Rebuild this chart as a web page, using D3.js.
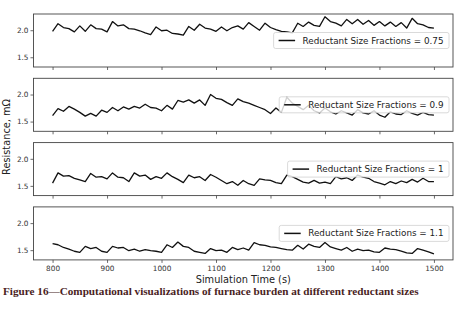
<!DOCTYPE html>
<html>
<head>
<meta charset="utf-8">
<script src="https://cdn.jsdelivr.net/npm/d3@7"></script>
<style>
  body { margin: 0; background: #fff; }
  svg { display: block; }
</style>
</head>
<body>
<div id="chart"></div>
<script>
var width = 471,
    height = 314;

// simulation time, s (10 s steps)
var times = d3.range(800, 1501, 10);

var fractions = ["0.75", "0.9", "1", "1.1"];

// resistance, mOhm
var res075 = [1.98, 2.12, 2.05, 2.03, 1.97, 2.08, 1.98, 2.10, 2.03, 2.02,
              1.97, 2.16, 2.08, 2.10, 2.03, 2.02, 1.99, 1.95, 1.92, 2.06,
              1.99, 2.00, 1.94, 1.93, 1.91, 2.07, 2.00, 2.11, 2.04, 2.02,
              1.98, 2.06, 1.99, 2.05, 2.08, 2.02, 2.14, 2.07, 2.00, 2.13,
              2.05, 2.01, 1.98, 1.97, 1.95, 2.13, 2.07, 2.15, 2.09, 2.07,
              2.25, 2.16, 2.13, 2.08, 2.20, 2.12, 2.20, 2.11, 2.18, 2.09,
              2.16, 2.08, 2.15, 2.07, 2.14, 2.04, 2.22, 2.12, 2.10, 2.05, 2.04];
var res09 = [1.61, 1.74, 1.69, 1.78, 1.73, 1.67, 1.60, 1.65, 1.60, 1.71,
             1.67, 1.76, 1.70, 1.77, 1.73, 1.78, 1.75, 1.82, 1.76, 1.75,
             1.70, 1.80, 1.73, 1.89, 1.86, 1.90, 1.84, 1.90, 1.80, 2.00,
             1.93, 1.91, 1.85, 1.80, 1.92, 1.87, 1.84, 1.80, 1.76, 1.72,
             1.65, 1.75, 1.67, 1.95, 1.84, 1.78, 1.72, 1.80, 1.70, 1.66,
             1.75, 1.68, 1.64, 1.70, 1.66, 1.62, 1.72, 1.66, 1.64, 1.70,
             1.62, 1.58, 1.68, 1.64, 1.63, 1.70, 1.65, 1.62, 1.67, 1.63, 1.62];
var res1 = [1.55, 1.74, 1.68, 1.69, 1.64, 1.61, 1.58, 1.73, 1.66, 1.67,
            1.63, 1.74, 1.66, 1.65, 1.58, 1.74, 1.68, 1.70, 1.62, 1.67,
            1.64, 1.74, 1.67, 1.62, 1.56, 1.70, 1.65, 1.67, 1.60, 1.71,
            1.66, 1.60, 1.54, 1.58, 1.51, 1.60, 1.54, 1.51, 1.63, 1.61,
            1.60, 1.56, 1.54, 1.70, 1.67, 1.62, 1.57, 1.55, 1.60, 1.55,
            1.57, 1.54, 1.67, 1.63, 1.65, 1.60, 1.70, 1.66, 1.64, 1.58,
            1.55, 1.52, 1.58, 1.54, 1.59, 1.56, 1.62, 1.57, 1.64, 1.58, 1.58];
var res11 = [1.62, 1.60, 1.55, 1.52, 1.48, 1.46, 1.57, 1.53, 1.55, 1.48,
             1.46, 1.57, 1.54, 1.55, 1.49, 1.52, 1.48, 1.51, 1.49, 1.48,
             1.46, 1.60, 1.55, 1.65, 1.57, 1.55, 1.48, 1.46, 1.44, 1.53,
             1.49, 1.50, 1.46, 1.55, 1.51, 1.54, 1.50, 1.64, 1.60, 1.59,
             1.56, 1.55, 1.53, 1.51, 1.50, 1.59, 1.52, 1.61, 1.57, 1.55,
             1.64, 1.56, 1.53, 1.50, 1.55, 1.48, 1.52, 1.49, 1.50, 1.47,
             1.46, 1.54, 1.52, 1.51, 1.48, 1.45, 1.44, 1.53, 1.50, 1.47, 1.43];

var series = [res075, res09, res1, res11];

var xTicks = [800, 900, 1000, 1100, 1200, 1300, 1400, 1500];
var yTicks = [1.5, 2.0];

var plot = { left: 33.5, right: 453, top: 14, panelH: 53, step: 64.3 };

var x = d3.scaleLinear().domain([765, 1535]).range([plot.left, plot.right]);

var svg = d3.select("#chart").append("svg")
    .attr("width", width)
    .attr("height", height)
    .style("font-family", "'DejaVu Sans', sans-serif");

series.forEach(function (vals, k) {
    var top = plot.top + k * plot.step,
        bottom = top + plot.panelH;
    var y = d3.scaleLinear().domain([1.32, 2.30]).range([bottom, top]);
    var g = svg.append("g");

    var line = d3.line()
        .x(function (d, i) { return x(times[i]); })
        .y(function (d) { return y(d); });

    g.append("path")
        .datum(vals)
        .attr("d", line)
        .attr("fill", "none")
        .attr("stroke", "#111")
        .attr("stroke-width", 1.3)
        .attr("stroke-linejoin", "round");

    // y axis
    var yAxis = g.append("g")
        .attr("transform", "translate(" + plot.left + ",0)")
        .call(d3.axisLeft(y).tickValues(yTicks).tickFormat(d3.format(".1f")).tickSize(3).tickPadding(2));
    yAxis.select(".domain").remove();
    yAxis.selectAll("line").attr("stroke", "#444").attr("stroke-width", 0.8);
    yAxis.selectAll("text").style("font-size", "7.3px").attr("fill", "#333").attr("font-family", "'DejaVu Sans', sans-serif");

    // x axis
    var xAxis = g.append("g")
        .attr("transform", "translate(0," + bottom + ")")
        .call(d3.axisBottom(x).tickValues(xTicks).tickFormat(d3.format("d")).tickSize(3).tickPadding(3));
    xAxis.select(".domain").remove();
    xAxis.selectAll("line").attr("stroke", "#444").attr("stroke-width", 0.8);
    xAxis.selectAll("text").style("font-size", "7.3px").attr("fill", "#333").attr("font-family", "'DejaVu Sans', sans-serif");
    if (k < series.length - 1) xAxis.selectAll("text").remove();

    // frame
    g.append("rect")
        .attr("x", plot.left)
        .attr("y", top)
        .attr("width", plot.right - plot.left)
        .attr("height", plot.panelH)
        .attr("fill", "none")
        .attr("stroke", "#444")
        .attr("stroke-width", 0.9);

    // legend, center right
    var cy = (top + bottom) / 2;
    var leg = g.append("g");
    var box = leg.append("rect");
    var label = leg.append("text")
        .attr("y", cy)
        .attr("dy", "0.35em")
        .style("font-size", "8.8px")
        .attr("fill", "#222")
        .text("Reductant Size Fractions = " + fractions[k]);
    var tw = label.node().getComputedTextLength();
    var tx = plot.right - 9.5 - tw;
    label.attr("x", tx);
    box.attr("x", tx - 29)
        .attr("y", cy - 8)
        .attr("width", tw + 34.5)
        .attr("height", 16)
        .attr("rx", 2)
        .attr("fill", "#fff")
        .attr("fill-opacity", 0.8)
        .attr("stroke", "#d0d0d0")
        .attr("stroke-width", 0.8);
    leg.append("line")
        .attr("x1", tx - 24)
        .attr("x2", tx - 7.5)
        .attr("y1", cy)
        .attr("y2", cy)
        .attr("stroke", "#111")
        .attr("stroke-width", 1.5);
});

// axis titles
svg.append("text")
    .attr("x", (plot.left + plot.right) / 2)
    .attr("y", 283)
    .attr("text-anchor", "middle")
    .style("font-size", "9.8px")
    .attr("fill", "#222")
    .text("Simulation Time (s)");

svg.append("text")
    .attr("transform", "translate(10," + (plot.top + (3 * plot.step + plot.panelH) / 2) + ") rotate(-90)")
    .attr("text-anchor", "middle")
    .style("font-size", "9.8px")
    .attr("fill", "#222")
    .text("Resistance, mΩ");

// figure caption
svg.append("text")
    .attr("x", 3)
    .attr("y", 295)
    .style("font-family", "'Liberation Serif', 'Times New Roman', serif")
    .style("font-weight", "bold")
    .style("font-size", "11.2px")
    .attr("fill", "#4a1e1e")
    .text("Figure 16—Computational visualizations of furnace burden at different reductant sizes");
</script>
</body>
</html>
